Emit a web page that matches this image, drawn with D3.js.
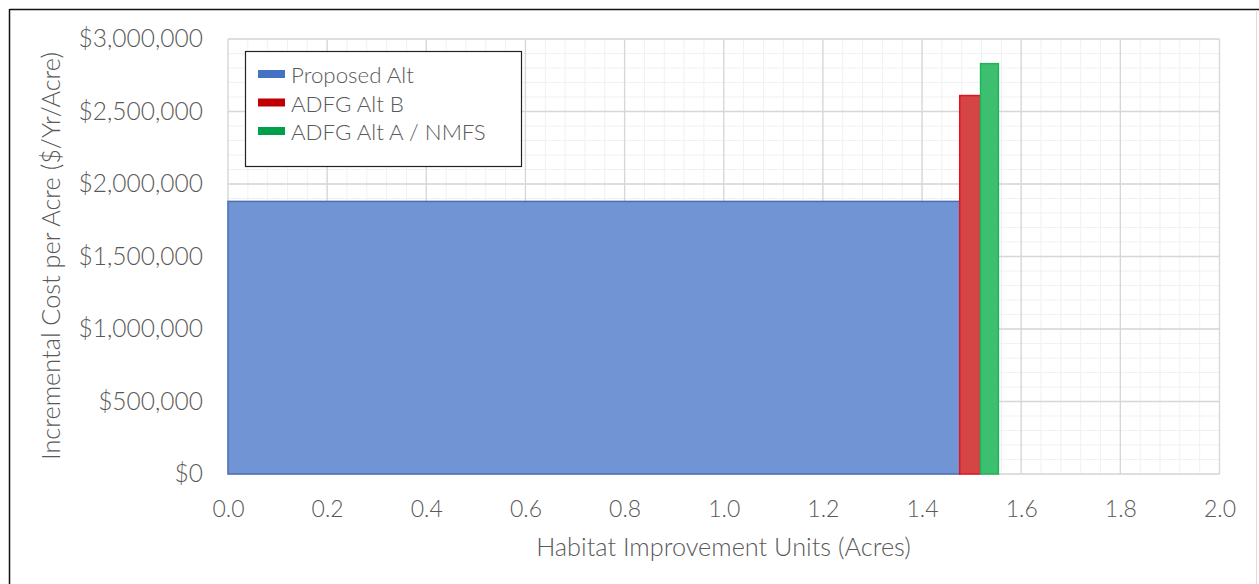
<!DOCTYPE html>
<html><head><meta charset="utf-8">
<script src="https://cdn.jsdelivr.net/npm/d3@7"></script>
<style>body{margin:0;background:#fff}svg{display:block}text{font-family:Lato,"Open Sans",sans-serif;font-weight:300}</style>
</head><body><svg id="c" width="1259" height="584"></svg>
<script>
const series = ["Proposed Alt", "ADFG Alt B", "ADFG Alt A / NMFS"];
const unitsEnd = [1.476, 1.518, 1.554];      // cumulative acres at right edge of each bar
const costPerAcre = [1880000, 2610000, 2830000];
const xTicks = [0, 0.2, 0.4, 0.6, 0.8, 1.0, 1.2, 1.4, 1.6, 1.8, 2.0];
const yTicks = [0, 500000, 1000000, 1500000, 2000000, 2500000, 3000000];
const fills = ["#7094d4", "#d64545", "#3cc070"];
const strokes = ["#4a6fb8", "#e0141e", "#1fb35a"];
const swatches = ["#4472c4", "#c00000", "#00a04b"];

const svg = d3.select("#c");
const L = 228, R = 1219.5, T = 39, B = 474;
const x = d3.scaleLinear().domain([0, 2]).range([L, R]);
const y = d3.scaleLinear().domain([0, 3000000]).range([B, T]);

// outer frame
svg.append("line").attr("x1",9.5).attr("x2",1259).attr("y1",9.5).attr("y2",9.5).attr("stroke","#111").attr("stroke-width",1.5);
svg.append("line").attr("x1",9.5).attr("x2",9.5).attr("y1",9).attr("y2",584).attr("stroke","#111").attr("stroke-width",1.5);
svg.append("line").attr("x1",1256.5).attr("x2",1256.5).attr("y1",10).attr("y2",584).attr("stroke","#ddd");

// minor grid
const g = svg.append("g");
g.selectAll(".mx").data(d3.range(0, 2.0001, 0.04)).join("line")
  .attr("x1", d=>x(d)).attr("x2", d=>x(d)).attr("y1", T).attr("y2", B)
  .attr("stroke", "#f1f1f1");
g.selectAll(".my").data(d3.range(0, 3000001, 100000)).join("line")
  .attr("x1", L).attr("x2", R).attr("y1", d=>y(d)).attr("y2", d=>y(d))
  .attr("stroke", "#f1f1f1");
// major grid
g.selectAll(".gx").data(xTicks).join("line")
  .attr("x1", d=>x(d)).attr("x2", d=>x(d)).attr("y1", T).attr("y2", B)
  .attr("stroke", "#d6d6d6").attr("stroke-width", 1.3);
g.selectAll(".gy").data(yTicks).join("line")
  .attr("x1", L).attr("x2", R).attr("y1", d=>y(d)).attr("y2", d=>y(d))
  .attr("stroke", "#d6d6d6").attr("stroke-width", 1.3);

// bars
const starts = unitsEnd.map((d,i)=> i===0 ? 0 : unitsEnd[i-1]);
svg.selectAll(".bar").data(series).join("rect")
  .attr("x", (d,i)=>x(starts[i]))
  .attr("width", (d,i)=>x(unitsEnd[i]) - x(starts[i]))
  .attr("y", (d,i)=>y(costPerAcre[i]))
  .attr("height", (d,i)=>y(0) - y(costPerAcre[i]))
  .attr("fill", (d,i)=>fills[i])
  .attr("stroke", (d,i)=>strokes[i]).attr("stroke-width", 1.5);

// axes
const xa = svg.append("g").attr("transform", `translate(0,${B})`)
  .call(d3.axisBottom(x).tickValues(xTicks).tickFormat(d3.format(".1f")).tickSize(0).tickPadding(27));
const ya = svg.append("g").attr("transform", `translate(${L},0)`)
  .call(d3.axisLeft(y).tickValues(yTicks).tickFormat(d=>"$"+d3.format(",")(d)).tickSize(0).tickPadding(25));
[xa, ya].forEach(a=>{ a.select(".domain").remove();
  a.selectAll("text").attr("fill","#595959").style("font-family","Lato, sans-serif").style("font-weight","300"); });
xa.selectAll("text").style("font-size","23px");
ya.selectAll("text").style("font-size","24.5px");

// titles
svg.append("text").attr("x", 723.5).attr("y", 556).attr("text-anchor","middle")
  .attr("fill","#595959").style("font-size","25.3px").text("Habitat Improvement Units (Acres)");
svg.append("text").attr("transform","translate(60,256) rotate(-90)").attr("text-anchor","middle")
  .attr("fill","#595959").style("font-size","25.3px").text("Incremental Cost per Acre ($/Yr/Acre)");

// legend
const lg = svg.append("g");
lg.append("rect").attr("x",245.5).attr("y",51.5).attr("width",276).attr("height",115)
  .attr("fill","#fff").attr("stroke","#222").attr("stroke-width",1.2);
const rowY = [74, 102.5, 131];
const baseY = [83.3, 111.7, 140];
lg.selectAll(".sw").data(series).join("rect")
  .attr("x",258).attr("y",(d,i)=>rowY[i]-4).attr("width",27).attr("height",8)
  .attr("fill",(d,i)=>swatches[i]);
lg.selectAll(".lt").data(series).join("text")
  .attr("x",291).attr("y",(d,i)=>baseY[i])
  .attr("fill","#595959").style("font-size","22.3px").text(d=>d);
</script></body></html>
